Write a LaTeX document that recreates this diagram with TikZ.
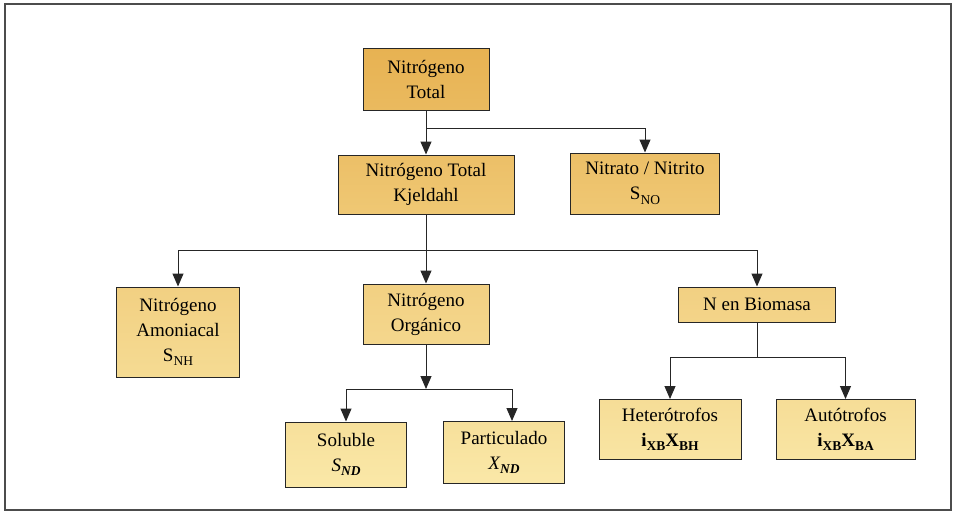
\documentclass[tikz,border=0pt]{standalone}
\usepackage{fontspec}
\setmainfont{Liberation Serif}
\usetikzlibrary{arrows.meta}

% box fills: a top-to-bottom shading that gets lighter further down the tree
\definecolor{ntT}{RGB}{231,178,82}   \definecolor{ntB}{RGB}{234,186,95}
\definecolor{lvAT}{RGB}{236,191,103} \definecolor{lvAB}{RGB}{239,200,116}
\definecolor{lvBT}{RGB}{242,208,130} \definecolor{lvBB}{RGB}{245,219,147}
\definecolor{orgB}{RGB}{244,215,141} \definecolor{bioB}{RGB}{243,212,137}
\definecolor{lvCT}{RGB}{246,221,151} \definecolor{lvCB}{RGB}{249,229,163}
\definecolor{lvDT}{RGB}{247,224,155} \definecolor{lvDB}{RGB}{250,232,168}

% lowered subscript, as set in the labels
\newcommand{\lowsub}[1]{\raisebox{-4.5pt}{\fontsize{13.5}{14}\selectfont #1}}

\tikzset{
  box/.style={draw=black!85, line width=1pt, inner sep=0pt, align=center,
    font={\fontsize{19}{25}\selectfont}, text=black},
  link/.style={draw=black!85, line width=1pt},
  arr/.style={link, -{Triangle[length=13pt,width=11pt]}},
}

\begin{document}
\begin{tikzpicture}[x=1pt, y=-1pt]
  \useasboundingbox (0,0) rectangle (954,512);
  \fill[white] (0,0) rectangle (954,512);
  % outer frame
  \draw[black!70, line width=1.6pt] (5,4) rectangle (951,510);

  % tree nodes
  \node[box, minimum width=126pt, minimum height=62pt, top color=ntT, bottom color=ntB]
    (nt) at (426,79) {Nitrógeno\\Total};
  \node[box, minimum width=176pt, minimum height=59pt, top color=lvAT, bottom color=lvAB]
    (ntk) at (426,184.5) {Nitrógeno Total\\Kjeldahl};
  \node[box, minimum width=149pt, minimum height=61pt, top color=lvAT, bottom color=lvAB]
    (nit) at (645,183.5) {Nitrato / Nitrito\\S\lowsub{NO}};
  \node[box, minimum width=123pt, minimum height=90pt, top color=lvBT, bottom color=lvBB]
    (amo) at (178,332) {Nitrógeno\\Amoniacal\\S\lowsub{NH}};
  \node[box, minimum width=126pt, minimum height=60pt, top color=lvBT, bottom color=orgB]
    (org) at (426,314) {Nitrógeno\\Orgánico};
  \node[box, minimum width=157pt, minimum height=35pt, top color=lvBT, bottom color=bioB]
    (bio) at (757,304.5) {N en Biomasa};
  \node[box, minimum width=121pt, minimum height=65pt, top color=lvDT, bottom color=lvDB]
    (sol) at (346,454.5) {Soluble\\\textit{S\lowsub{\textbf{ND}}}};
  \node[box, minimum width=121pt, minimum height=62pt, top color=lvDT, bottom color=lvDB]
    (par) at (504,452.5) {Particulado\\\textit{X\lowsub{\textbf{ND}}}};
  \node[box, minimum width=142pt, minimum height=60pt, top color=lvCT, bottom color=lvCB]
    (het) at (670,429.5) {Heterótrofos\\\textbf{i\lowsub{XB}X\lowsub{BH}}};
  \node[box, minimum width=139pt, minimum height=60pt, top color=lvCT, bottom color=lvCB]
    (aut) at (845.5,429.5) {Autótrofos\\\textbf{i\lowsub{XB}X\lowsub{BA}}};

  % branch points
  \coordinate (b1) at (426,128);
  \coordinate (b2) at (426,250);
  \coordinate (b2l) at (178,250);
  \coordinate (b2r) at (757,250);
  \coordinate (b3) at (426,389);
  \coordinate (b3l) at (346,389);
  \coordinate (b3r) at (512,389);
  \coordinate (b4) at (757,357);
  \coordinate (b4l) at (670,357);
  \coordinate (b4r) at (845.5,357);

  % connectors
  \draw[arr] (nt.south) -- (ntk.north);
  \draw[arr] (b1) -| (nit.north);

  \draw[arr] (ntk.south) -- (org.north);
  \draw[link] (b2l) -- (b2r);
  \draw[arr] (b2l) -- (amo.north);
  \draw[arr] (b2r) -- (bio.north);

  \draw[arr] (org.south) -- (b3);
  \draw[link] (b3l) -- (b3r);
  \draw[arr] (b3l) -- (sol.north);
  \draw[arr] (b3r) -- (b3r |- par.north);

  \draw[link] (bio.south) -- (b4);
  \draw[link] (b4l) -- (b4r);
  \draw[arr] (b4l) -- (het.north);
  \draw[arr] (b4r) -- (aut.north);
\end{tikzpicture}
\end{document}
